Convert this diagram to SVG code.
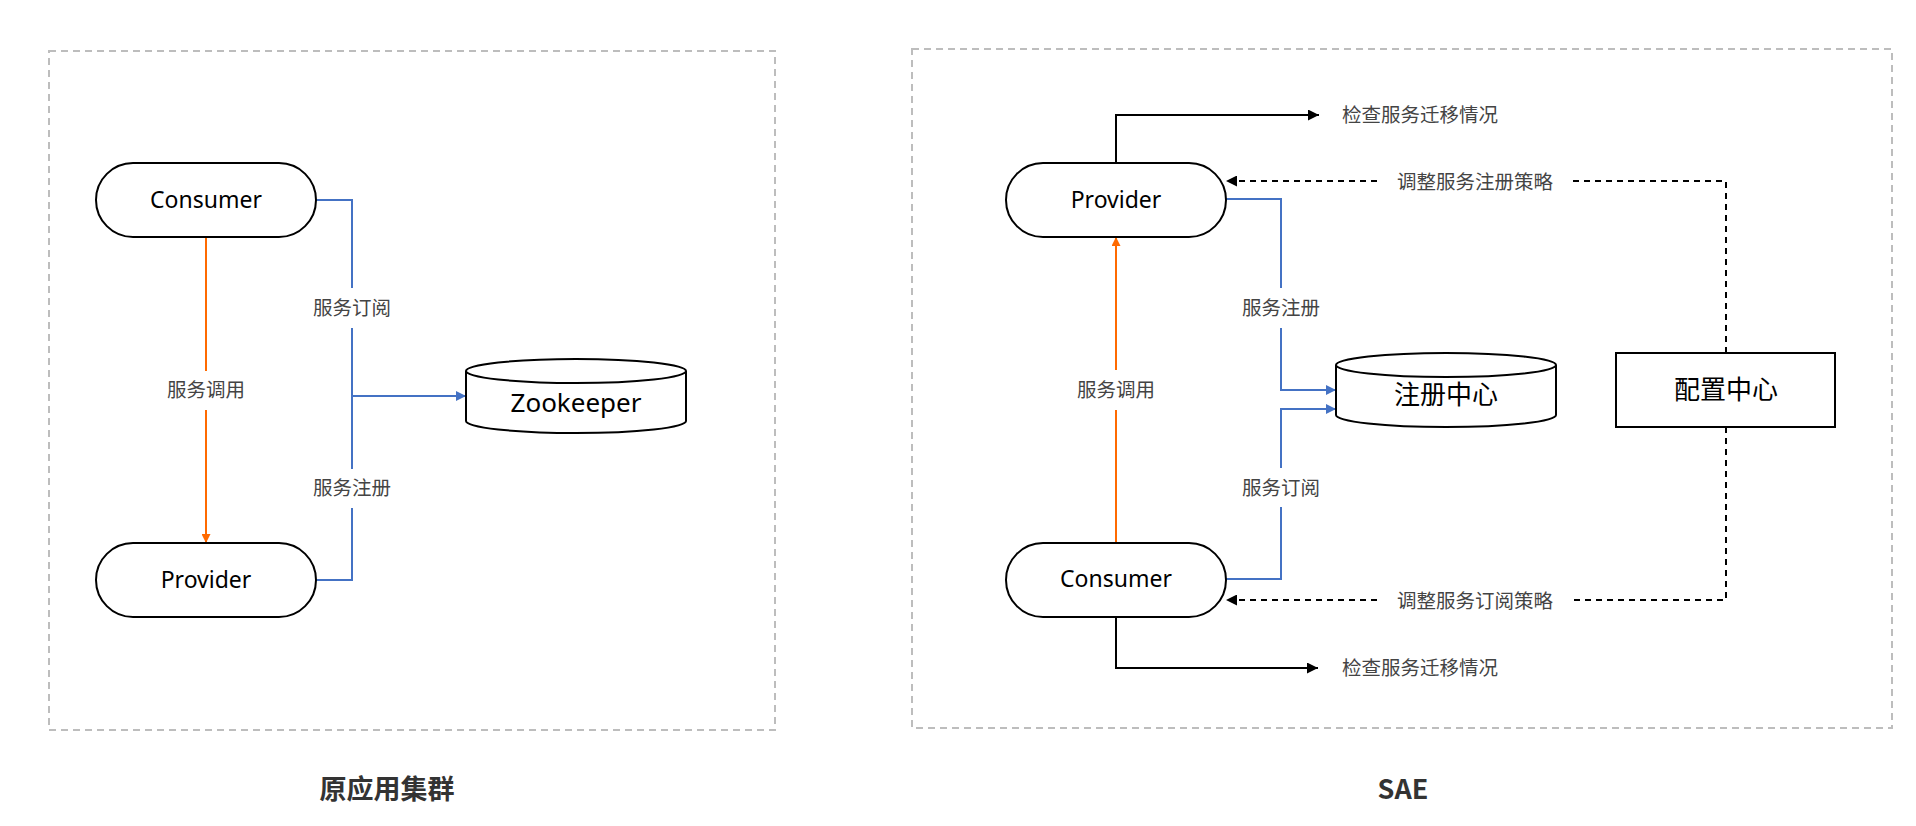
<svg xmlns="http://www.w3.org/2000/svg" width="1916" height="826" viewBox="0 0 1916 826">
<style>
.frame{fill:none;stroke:#bdbdbd;stroke-width:2;stroke-dasharray:7 5}
.node{fill:#fff;stroke:#000;stroke-width:2}
.ntext{font-family:"Noto Sans","Open Sans","Noto Sans CJK SC",sans-serif;font-size:23px;fill:#000;text-anchor:middle}
.big{font-family:"Noto Sans","Noto Sans CJK SC",sans-serif;font-size:26px;fill:#000;text-anchor:middle;dominant-baseline:central}
.lbl{font-family:"Noto Sans CJK SC",sans-serif;font-size:19.5px;fill:#444;dominant-baseline:central}
.mid{text-anchor:middle}
.title{font-family:"Noto Sans CJK SC",sans-serif;font-size:27px;font-weight:bold;fill:#333;text-anchor:middle;dominant-baseline:central}
.blue{fill:none;stroke:#4472c4;stroke-width:2}
.orange{fill:none;stroke:#ff6a00;stroke-width:2}
.black{fill:none;stroke:#000;stroke-width:2}
.dash{fill:none;stroke:#000;stroke-width:2;stroke-dasharray:6 5}
</style>
<defs>
<marker id="aBlue" viewBox="0 0 10 10" refX="10" refY="5" markerUnits="userSpaceOnUse" markerWidth="10" markerHeight="10" orient="auto"><path d="M0,0 L10,5 L0,10 z" fill="#4472c4"/></marker>
<marker id="aOrange" viewBox="0 0 10 10" refX="10" refY="5" markerUnits="userSpaceOnUse" markerWidth="10" markerHeight="9" orient="auto"><path d="M0,0 L10,5 L0,10 z" fill="#ff6a00"/></marker>
<marker id="aBlack" viewBox="0 0 10 10" refX="10" refY="5" markerUnits="userSpaceOnUse" markerWidth="12" markerHeight="11" orient="auto"><path d="M0,0 L10,5 L0,10 z" fill="#000"/></marker>
</defs>
<rect width="1916" height="826" fill="#fff"/>

<g id="frames">
<rect class="frame" x="49" y="51" width="726" height="679"/>
<rect class="frame" x="912" y="49" width="980" height="679"/>
</g>

<g id="connectors">
<!-- left -->
<path class="orange" d="M206,237 V371"/>
<path class="orange" d="M206,410 V543" marker-end="url(#aOrange)"/>
<path class="blue" d="M316,200 H352 V288"/>
<path class="blue" d="M352,328 V469"/>
<path class="blue" d="M352,508 V580 H316"/>
<path class="blue" d="M352,396 H466" marker-end="url(#aBlue)"/>
<!-- right -->
<path class="black" d="M1116,163 V115 H1319" marker-end="url(#aBlack)"/>
<path class="black" d="M1116,617 V668 H1318" marker-end="url(#aBlack)"/>
<path class="dash" d="M1726,353 V181 H1573"/>
<path class="dash" d="M1377,181 H1226" marker-end="url(#aBlack)"/>
<path class="dash" d="M1726,427 V600 H1573"/>
<path class="dash" d="M1377,600 H1226" marker-end="url(#aBlack)"/>
<path class="orange" d="M1116,543 V410"/>
<path class="orange" d="M1116,370 V237" marker-end="url(#aOrange)"/>
<path class="blue" d="M1226,199 H1281 V288"/>
<path class="blue" d="M1281,328 V390 H1336" marker-end="url(#aBlue)"/>
<path class="blue" d="M1226,579 H1281 V507"/>
<path class="blue" d="M1281,468 V409 H1336" marker-end="url(#aBlue)"/>
<!-- labels -->
<text class="lbl mid" x="206" y="388">服务调用</text>
<text class="lbl mid" x="352" y="306">服务订阅</text>
<text class="lbl mid" x="352" y="486">服务注册</text>
<text class="lbl mid" x="1116" y="388">服务调用</text>
<text class="lbl mid" x="1281" y="306">服务注册</text>
<text class="lbl mid" x="1281" y="486">服务订阅</text>
<text class="lbl" x="1342" y="113">检查服务迁移情况</text>
<text class="lbl" x="1342" y="666">检查服务迁移情况</text>
<text class="lbl mid" x="1475" y="180">调整服务注册策略</text>
<text class="lbl mid" x="1475" y="599">调整服务订阅策略</text>
</g>

<g id="consumer-left">
<rect class="node" x="96" y="163" width="220" height="74" rx="37"/>
<text class="ntext" x="206" y="208">Consumer</text>
</g>
<g id="provider-left">
<rect class="node" x="96" y="543" width="220" height="74" rx="37"/>
<text class="ntext" x="206" y="588">Provider</text>
</g>
<g id="zookeeper">
<path class="node" d="M466,371 V421 A110,12 0 0 0 686,421 V371"/>
<ellipse class="node" cx="576" cy="371" rx="110" ry="12"/>
<text class="ntext" x="576" y="412" style="font-size:26px">Zookeeper</text>
</g>

<g id="provider-right">
<rect class="node" x="1006" y="163" width="220" height="74" rx="37"/>
<text class="ntext" x="1116" y="208">Provider</text>
</g>
<g id="consumer-right">
<rect class="node" x="1006" y="543" width="220" height="74" rx="37"/>
<text class="ntext" x="1116" y="587">Consumer</text>
</g>
<g id="registry">
<path class="node" d="M1336,365 V415 A110,12 0 0 0 1556,415 V365"/>
<ellipse class="node" cx="1446" cy="365" rx="110" ry="12"/>
<text class="big" x="1446" y="394">注册中心</text>
</g>
<g id="config">
<rect class="node" x="1616" y="353" width="219" height="74"/>
<text class="big" x="1726" y="389">配置中心</text>
</g>

<g id="titles">
<text class="title" x="387" y="787">原应用集群</text>
<text class="title" x="1403" y="787">SAE</text>
</g>
</svg>
